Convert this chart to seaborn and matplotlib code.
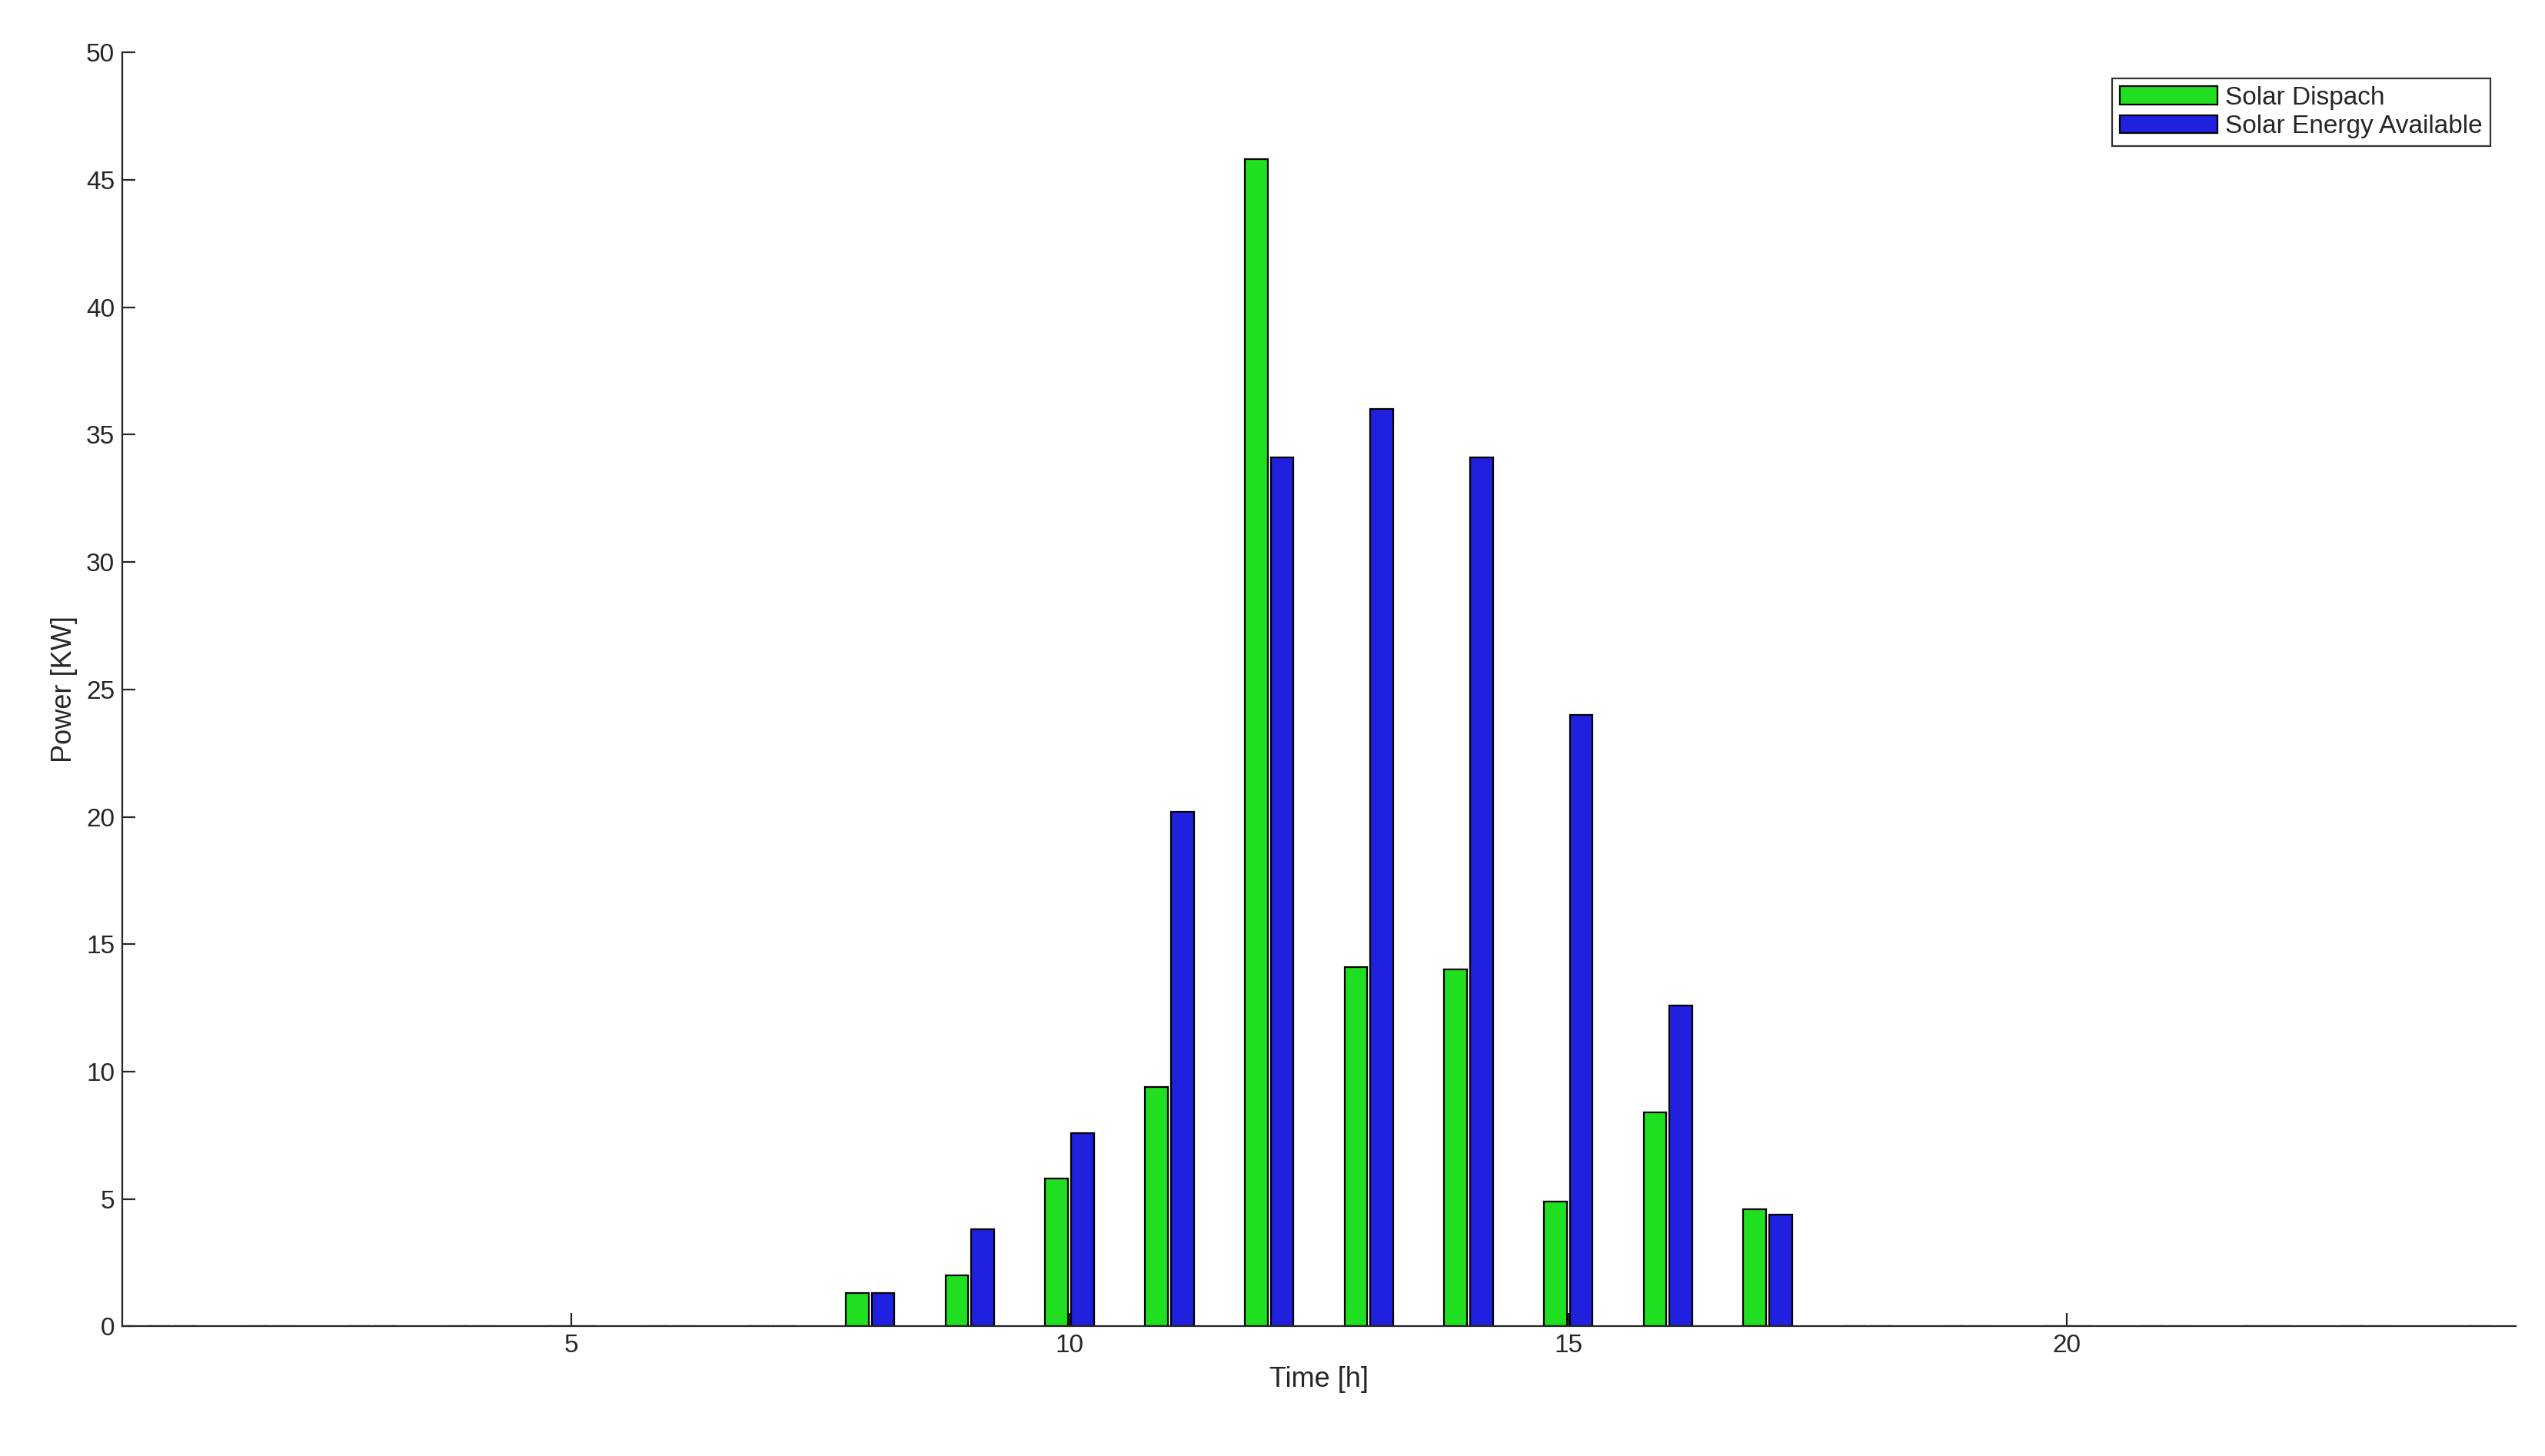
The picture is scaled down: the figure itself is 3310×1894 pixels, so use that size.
import pandas as pd
import seaborn as sns
import matplotlib.pyplot as plt

hours = list(range(1, 25))
solar_dispatch = [0, 0, 0, 0, 0, 0, 0, 1.3, 2.0, 5.8, 9.4, 45.8,
                  14.1, 14.0, 4.9, 8.4, 4.6, 0, 0, 0, 0, 0, 0, 0]
solar_available = [0, 0, 0, 0, 0, 0, 0, 1.3, 3.8, 7.6, 20.2, 34.1,
                   36.0, 34.1, 24.0, 12.6, 4.4, 0, 0, 0, 0, 0, 0, 0]
series_names = ["Solar Dispach", "Solar Energy Available"]

df = pd.DataFrame({
    "hour": hours * 2,
    "power": solar_dispatch + solar_available,
    "series": [series_names[0]] * 24 + [series_names[1]] * 24,
})

sns.set_style("ticks")
plt.rcParams["font.family"] = ["Liberation Sans", "DejaVu Sans"]

fig = plt.figure(figsize=(16.55, 9.47), dpi=200)
ax = fig.add_axes([0.048, 0.089, 0.9405, 0.875])

sns.barplot(data=df, x="hour", y="power", hue="series", native_scale=True,
            palette=["#00ff00", "#0000ff"], width=0.52, gap=0.12,
            edgecolor="black", linewidth=0.8, errorbar=None, ax=ax)

ax.set_xlim(0.5, 24.5)
ax.set_ylim(0, 50)
ax.set_xticks([5, 10, 15, 20])
ax.set_yticks(range(0, 51, 5))
ax.tick_params(direction="in", labelsize=12, colors="#262626", length=6)
ax.set_xlabel("Time [h]", fontsize=13, color="#262626")
ax.set_ylabel("Power [KW]", fontsize=13, color="#262626")
sns.despine(ax=ax)
for s in ["left", "bottom"]:
    ax.spines[s].set_color("#262626")

leg = ax.legend(loc="upper right", fontsize=12, frameon=True, fancybox=False,
                edgecolor="black", borderpad=0.3, handlelength=3.8,
                handletextpad=0.3, labelspacing=0.2, borderaxespad=1.0)
leg.get_frame().set_linewidth(0.8)

fig.savefig("out.png", dpi=200)
